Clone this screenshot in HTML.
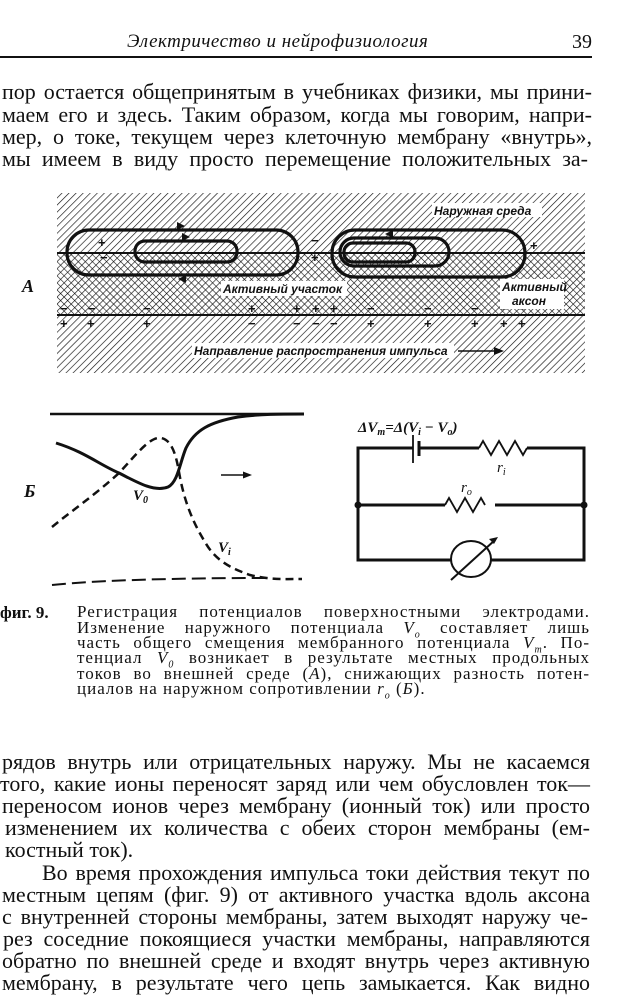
<!DOCTYPE html>
<html><head><meta charset="utf-8"><style>
html,body{margin:0;padding:0;background:#fff;}
body{width:620px;height:994px;position:relative;overflow:hidden;font-family:"Liberation Serif",serif;color:#111;}
.l{position:absolute;font-size:22px;line-height:22px;white-space:nowrap;text-align:justify;text-align-last:justify;height:22px;}
.c{position:absolute;font-size:17px;line-height:16px;white-space:nowrap;text-align:justify;text-align-last:justify;height:16px;letter-spacing:1px;}
i{font-style:italic;}
</style></head><body>
<div style="position:absolute;left:127px;top:31px;font-size:19px;font-style:italic;letter-spacing:0.5px;">Электричество и нейрофизиология</div>
<div style="position:absolute;left:572px;top:31px;font-size:20px;">39</div>
<div style="position:absolute;left:0;top:56px;width:592px;height:2px;background:#111;"></div>

<div class="l" style="left:2px;top:81px;width:590px">пор остается общепринятым в учебниках физики, мы прини-</div>
<div class="l" style="left:2px;top:104px;width:590px">маем его и здесь. Таким образом, когда мы говорим, напри-</div>
<div class="l" style="left:2px;top:126px;width:590px">мер, о токе, текущем через клеточную мембрану «внутрь»,</div>
<div class="l" style="left:2px;top:148px;width:586px">мы имеем в виду просто перемещение положительных за-</div>

<svg style="position:absolute;left:0;top:0" width="620" height="994" xmlns="http://www.w3.org/2000/svg">
<defs>
<pattern id="h1" width="5" height="5" patternUnits="userSpaceOnUse" patternTransform="rotate(45)">
<line x1="0" y1="0" x2="0" y2="5" stroke="#111" stroke-width="1.3"/></pattern>
<pattern id="h2" width="5" height="5" patternUnits="userSpaceOnUse" patternTransform="rotate(-45)">
<line x1="0" y1="0" x2="0" y2="5" stroke="#111" stroke-width="1.2"/></pattern>
</defs>
<rect x="57" y="193" width="528" height="180" fill="url(#h1)"/>
<rect x="57" y="253" width="528" height="62" fill="url(#h2)"/>
<line x1="57" y1="253" x2="585" y2="253" stroke="#111" stroke-width="2"/>
<line x1="57" y1="315" x2="585" y2="315" stroke="#111" stroke-width="2"/>
<g fill="none" stroke="#111" stroke-width="3.2">
<rect x="67" y="230" width="231" height="45" rx="22"/>
<rect x="135" y="241" width="102" height="21" rx="10"/>
<rect x="332" y="230" width="193" height="47" rx="23"/>
<rect x="340" y="238" width="109" height="28" rx="14"/>
<rect x="344" y="243" width="71" height="19" rx="9"/>
</g>
<g fill="#111"><path d="M185 226 l-8 -4 v8z"/><path d="M190 237 l-8 -4 v8z"/><path d="M178 279 l8 -4 v8z"/><path d="M385 234 l8 -4 v8z"/></g>
<g font-family="Liberation Sans,sans-serif" font-size="13" font-weight="bold" fill="#111">
<text x="98" y="247">+</text><text x="100" y="262">−</text>
<text x="311" y="245">−</text><text x="311" y="262">+</text>
<text x="530" y="250">+</text>
<text x="60" y="313">−</text><text x="60" y="328">+</text>
<text x="88" y="313">−</text><text x="87" y="328">+</text>
<text x="143" y="313">−</text><text x="143" y="328">+</text>
<text x="248" y="313">+</text><text x="248" y="328">−</text>
<text x="293" y="313">+</text><text x="293" y="328">−</text>
<text x="312" y="313">+</text><text x="312" y="328">−</text>
<text x="330" y="313">+</text><text x="330" y="328">−</text>
<text x="367" y="313">−</text><text x="367" y="328">+</text>
<text x="424" y="313">−</text><text x="424" y="328">+</text>
<text x="471" y="313">−</text><text x="471" y="328">+</text>
<text x="500" y="313">−</text><text x="500" y="328">+</text>
<text x="518" y="313">−</text><text x="518" y="328">+</text>
</g>
<g font-family="Liberation Sans,sans-serif" font-style="italic" font-weight="bold" font-size="12" fill="#111">
<rect x="432" y="203" width="110" height="14" fill="#fff"/>
<text x="434" y="215">Наружная среда</text>
<rect x="221" y="281" width="126" height="15" fill="#fff"/>
<text x="223" y="293">Активный участок</text>
<rect x="500" y="279" width="64" height="30" fill="#fff"/>
<text x="502" y="291">Активный</text><text x="512" y="305">аксон</text>
<rect x="192" y="343" width="262" height="15" fill="#fff"/>
<text x="194" y="355">Направление распространения импульса</text>
</g>
<line x1="458" y1="351" x2="500" y2="351" stroke="#111" stroke-width="1.5"/>
<path d="M504 351 l-10 -4 v8z" fill="#111"/>
<text x="22" y="292" font-family="Liberation Serif,serif" font-style="italic" font-weight="bold" font-size="18" fill="#111">А</text>
<text x="24" y="497" font-family="Liberation Serif,serif" font-style="italic" font-weight="bold" font-size="18" fill="#111">Б</text>

<line x1="50" y1="414" x2="304" y2="414" stroke="#111" stroke-width="2.5"/>
<path d="M56 443 C85 452 100 465 119 473 C140 484 155 492 168 487 C178 482 180 462 186 448 C195 430 210 422 238 417 C260 414 280 414 304 414" fill="none" stroke="#111" stroke-width="3"/>
<path d="M52 527 C70 512 95 495 119 473 C135 456 150 436 161 438 C172 440 176 455 179 472 C183 495 190 518 205 542 C215 560 230 568 250 575 C270 580 285 579 302 579" fill="none" stroke="#111" stroke-width="2.5" stroke-dasharray="8,5"/>
<path d="M52 585 C100 580 180 578 270 578" fill="none" stroke="#111" stroke-width="2" stroke-dasharray="14,6"/>
<line x1="221" y1="475" x2="246" y2="475" stroke="#111" stroke-width="1.5"/>
<path d="M252 475 l-9 -3.5 v7z" fill="#111"/>
<g font-family="Liberation Serif,serif" font-style="italic" font-size="15" fill="#111" font-weight="bold">
<text x="133" y="500">V<tspan font-size="10" dy="3">0</tspan></text>
<text x="218" y="552">V<tspan font-size="10" dy="3">i</tspan></text>
<text x="358" y="432">ΔV<tspan font-size="10" dy="3">m</tspan><tspan dy="-3">=Δ(V</tspan><tspan font-size="10" dy="3">i</tspan><tspan dy="-3"> − V</tspan><tspan font-size="10" dy="3">o</tspan><tspan dy="-3">)</tspan></text>
<text x="497" y="472" font-weight="normal">r<tspan font-size="10" dy="3">i</tspan></text>
<text x="461" y="492" font-weight="normal">r<tspan font-size="10" dy="3">o</tspan></text>
</g>
<g fill="none" stroke="#111" stroke-width="3">
<path d="M413 448 H358 V560 H452"/>
<path d="M419 448 H479 M527 448 H584 V560 H491"/>
<path d="M358 505 H445 M495 505 H584"/>
</g>
<g fill="none" stroke="#111" stroke-width="1.8">
<path d="M479 448 l4 -7 l8 14 l8 -14 l8 14 l8 -14 l8 14 l4 -7"/>
<path d="M445 505 l4 -7 l8 14 l8 -14 l8 14 l8 -14 l4 7"/>
<line x1="413" y1="435" x2="413" y2="463"/>
<line x1="419" y1="441" x2="419" y2="456" stroke-width="3"/>
<ellipse cx="471" cy="559" rx="20" ry="18" stroke-width="2"/>
<line x1="451" y1="580" x2="495" y2="540" stroke-width="2"/>
</g>
<path d="M498 537 l-9 2 l5 5z" fill="#111"/>
<circle cx="358" cy="505" r="3.5" fill="#111"/><circle cx="584" cy="505" r="3.5" fill="#111"/>
</svg>

<div style="position:absolute;left:0;top:603px;font-size:17px;font-weight:bold;">фиг. 9.</div>
<div class="c" style="left:77px;top:604px;width:513px">Регистрация потенциалов поверхностными электродами.</div>
<div class="c" style="left:77px;top:620px;width:513px">Изменение наружного потенциала <i>V<sub style="font-size:10px">o</sub></i> составляет лишь</div>
<div class="c" style="left:77px;top:635px;width:513px">часть общего смещения мембранного потенциала <i>V<sub style="font-size:10px">m</sub></i>. По-</div>
<div class="c" style="left:77px;top:650px;width:513px">тенциал <i>V<sub style="font-size:10px">0</sub></i> возникает в результате местных продольных</div>
<div class="c" style="left:77px;top:666px;width:513px">токов во внешней среде (<i>А</i>), снижающих разность потен-</div>
<div class="c" style="left:77px;top:681px;width:330px">циалов на наружном сопротивлении <i>r<sub style="font-size:10px">o</sub></i> (<i>Б</i>).</div>

<div class="l" style="left:2px;top:751px;width:588px">рядов внутрь или отрицательных наружу. Мы не касаемся</div>
<div class="l" style="left:0px;top:773px;width:590px">того, какие ионы переносят заряд или чем обусловлен ток—</div>
<div class="l" style="left:2px;top:795px;width:588px">переносом ионов через мембрану (ионный ток) или просто</div>
<div class="l" style="left:5px;top:817px;width:585px">изменением их количества с обеих сторон мембраны (ем-</div>
<div class="l" style="left:5px;top:839px;text-align:left;text-align-last:left">костный ток).</div>
<div class="l" style="left:42px;top:862px;width:548px">Во время прохождения импульса токи действия текут по</div>
<div class="l" style="left:2px;top:884px;width:588px">местным цепям (фиг. 9) от активного участка вдоль аксона</div>
<div class="l" style="left:2px;top:906px;width:586px">с внутренней стороны мембраны, затем выходят наружу че-</div>
<div class="l" style="left:3px;top:928px;width:587px">рез соседние покоящиеся участки мембраны, направляются</div>
<div class="l" style="left:2px;top:950px;width:588px">обратно по внешней среде и входят внутрь через активную</div>
<div class="l" style="left:2px;top:972px;width:588px">мембрану, в результате чего цепь замыкается. Как видно</div>
</body></html>
